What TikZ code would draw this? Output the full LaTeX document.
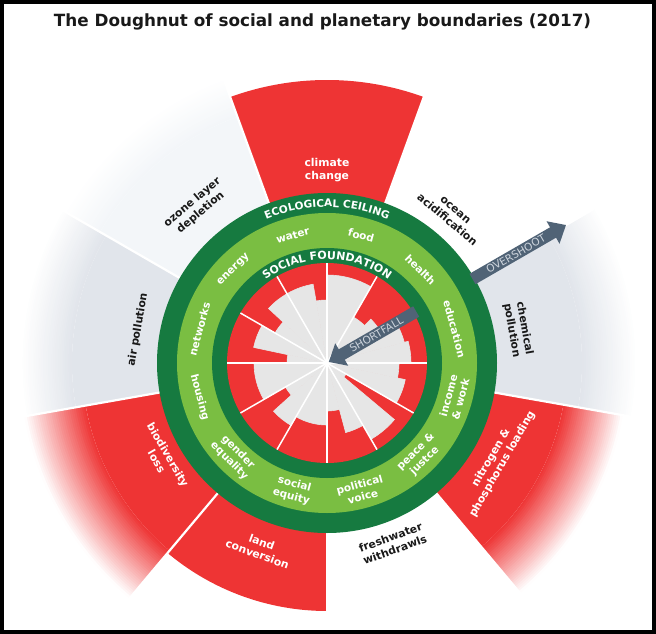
\documentclass[tikz,border=0pt]{standalone}
\usepackage{fontspec}
\setmainfont{DejaVu Sans}
\usetikzlibrary{arrows.meta,decorations.text}
\definecolor{dnred}{RGB}{238,52,52}
\definecolor{dngrey}{RGB}{230,230,230}
\definecolor{dndark}{RGB}{22,122,64}
\definecolor{dnlight}{RGB}{122,190,66}
\definecolor{dnpol}{RGB}{225,229,235}
\definecolor{dnozone}{RGB}{243,246,249}
\definecolor{dnarrow}{RGB}{80,99,118}
\definecolor{dnarrowtext}{RGB}{205,212,220}
\definecolor{dnblack}{RGB}{25,25,25}
\newcommand{\DNsector}[5]{\fill[#5] (#1:#3pt) arc[start angle=#1, end angle=#2, radius=#3pt] -- (#2:#4pt) arc[start angle=#2, end angle=#1, radius=#4pt] -- cycle;}
\newcommand{\DNpie}[4]{\filldraw[#4, line width=0.6pt, line join=miter] (0,0) -- (#1:#3pt) arc[start angle=#1, end angle=#2, radius=#3pt] -- cycle;}
\newcommand{\DNfade}[5]{%
  \DNsector{#1}{#2}{150}{#3}{#5}%
  \foreach \k in {0,...,29}{%
    \pgfmathsetmacro{\DNra}{#3+(#4-#3)*\k/30}%
    \pgfmathsetmacro{\DNrb}{#3+(#4-#3)*(\k+1.3)/30}%
    \pgfmathtruncatemacro{\DNpc}{100-100*(\k+0.5)/30}%
    \DNsector{#1}{#2}{\DNra}{\DNrb}{#5!\DNpc!white}%
  }%
}
\newcommand{\DNringfont}{\bfseries\fontsize{10.5}{12}\selectfont}
\newcommand{\DNringfontb}{\bfseries\fontsize{11}{12}\selectfont}
\tikzset{
  pblab/.style={font=\bfseries\fontsize{10.8}{13}\selectfont, align=center, inner sep=0pt, text=dnblack},
  glab/.style={font=\bfseries\fontsize{10.5}{12.5}\selectfont, align=center, inner sep=0pt, text=white},
  arrowlab/.style={font=\fontsize{10.5}{12}\selectfont, text=dnarrowtext, inner sep=0pt},
  bigarrow/.style={dnarrow, line width=12pt, -{Triangle[length=15pt,width=25pt]}}
}
\begin{document}
\begin{tikzpicture}[x=1pt,y=1pt]
\useasboundingbox (0,0) rectangle (656,-634);
\node[font=\bfseries\fontsize{16.8}{20}\selectfont, anchor=base, text=dnblack] (title) at (322.5,-27) {The Doughnut of social and planetary boundaries (2017)};
\begin{scope}[shift={(327,-363)}]
% planetary boundaries
\DNsector{70}{110}{150}{283}{dnred}
\DNfade{110}{150}{262}{302}{dnozone}
\DNfade{150}{190}{255}{306}{dnpol}
\DNfade{190}{230}{245}{307}{dnred}
\DNsector{230}{270}{150}{248}{dnred}
\DNfade{310}{350}{240}{300}{dnred}
\DNfade{350}{390}{255}{310}{dnpol}
\foreach \a in {30,70,110,150,190,230,270,310,350}
  \draw[white, line width=2.2pt] (\a:160pt) -- (\a:320pt);
% rings
\fill[dndark] (0,0) circle (170pt);
\fill[dnlight] (0,0) circle (150pt);
\fill[dndark] (0,0) circle (115pt);
\fill[dnred] (0,0) circle (100pt);
\foreach \sa/\sb/\sr in {90/100/63, 100/120/80, 120/137/80, 137/150/60, 150/168/75, 168/180/40,
  180/210/73, 210/222/48, 222/240/72, 240/270/62, 270/285/48, 285/300/72, 300/320/88,
  320/330/22, 330/348/80, 348/360/72, 0/15/84, 15/30/80, 30/45/62, 45/60/53, 60/90/88}
  {\DNpie{\sa}{\sb}{\sr}{dngrey}}
\foreach \a in {0,30,...,330}
  \draw[white, line width=1.5pt] (0,0) -- (\a:100pt);
% ring texts
\path[decorate, decoration={text along path, text={|\DNringfont|ECOLOGICAL CEILING}, text align=center, text color=white}]
  (150:156pt) arc[start angle=150, end angle=30, radius=156pt];
\path[decorate, decoration={text along path, text={|\DNringfontb|SOCIAL FOUNDATION}, text align=center, text color=white}]
  (160:103.5pt) arc[start angle=160, end angle=20, radius=103.5pt];
% arrows
\coordinate (sfTail) at (30:103pt);
\coordinate (sfTip) at (30:2pt);
\draw[bigarrow] (sfTail) -- (sfTip);
\node[arrowlab, rotate=30] (sfLabel) at (30:57pt) {SHORTFALL};
\coordinate (osTail) at (30:168pt);
\coordinate (osTip) at (30:276pt);
\draw[bigarrow] (osTail) -- (osTip);
\node[arrowlab, rotate=30] (osLabel) at (30:218pt) {OVERSHOOT};
% planetary labels
\node[pblab, text=white] (climate) at (90:193pt) {climate\\change};
\node[pblab, rotate=40] (ozone) at (130:203pt) {ozone layer\\depletion};
\node[pblab, rotate=-40] (ocean) at (50:193pt) {ocean\\acidification};
\node[pblab, rotate=-80] (chem) at (10:194pt) {chemical\\pollution};
\node[pblab, text=white, rotate=60] (nitro) at (-30:196pt) {nitrogen \&\\phosphorus loading};
\node[pblab, rotate=20] (fresh) at (-70:192pt) {freshwater\\withdrawls};
\node[pblab, text=white, rotate=-20] (land) at (-110:197pt) {land\\conversion};
\node[pblab, text=white, rotate=-60] (bio) at (-150:190pt) {biodiversity\\loss};
\node[pblab, rotate=80] (air) at (170:192pt) {air pollution};
% social labels
\node[glab, rotate=15] (water) at (105:132pt) {water};
\node[glab, rotate=-15] (food) at (75:132pt) {food};
\node[glab, rotate=-45] (health) at (45:132pt) {health};
\node[glab, rotate=-75] (educ) at (15:132pt) {education};
\node[glab, rotate=75] (income) at (-15:132pt) {income\\\& work};
\node[glab, rotate=45] (peace) at (-45:132pt) {peace \&\\justce};
\node[glab, rotate=15] (polit) at (-75:132pt) {political\\voice};
\node[glab, rotate=-15] (equity) at (-105:132pt) {social\\equity};
\node[glab, rotate=-45] (gender) at (-135:132pt) {gender\\equality};
\node[glab, rotate=-75] (housing) at (-165:132pt) {housing};
\node[glab, rotate=75] (networks) at (165:132pt) {networks};
\node[glab, rotate=45] (energy) at (135:132pt) {energy};
\end{scope}
\draw[black, line width=4pt] (2,-2) rectangle (654,-632);
\end{tikzpicture}
\end{document}
